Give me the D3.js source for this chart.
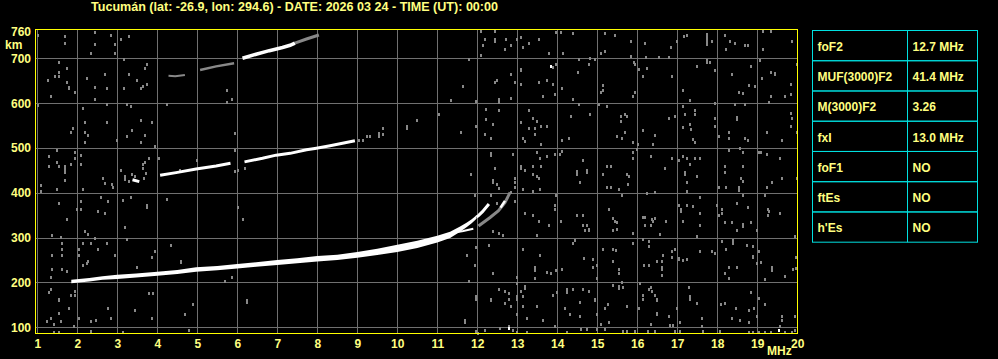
<!DOCTYPE html>
<html>
<head>
<meta charset="utf-8">
<script src="https://cdn.jsdelivr.net/npm/d3@7"></script>
<style>
  body { margin: 0; background: #000; }
  svg { display: block; }
  text { font-family: "Liberation Sans", Arial, sans-serif; font-weight: bold; font-size: 12px; }
</style>
</head>
<body>
<svg id="chart"></svg>
<script>
// ionogram - Tucuman, 2026 03 24 00:00 UT
var width = 998
var height = 359

var titleText = 'Tucumán (lat: -26.9, lon: 294.6) - DATE: 2026 03 24 - TIME (UT): 00:00'

var freqTicks = [1, 2, 3, 4, 5, 6, 7, 8, 9, 10, 11, 12, 13, 14, 15, 16, 17, 18, 19, 20]
var heightTicks = [100, 200, 300, 400, 500, 600, 700]
var heightLabels = [100, 200, 300, 400, 500, 600, 700, 760]

var paramNames = ['foF2', 'MUF(3000)F2', 'M(3000)F2', 'fxI', 'foF1', 'ftEs', "h'Es"]
var paramValues = ['12.7 MHz', '41.4 MHz', '3.26', '13.0 MHz', 'NO', 'NO', 'NO']

// F2 ordinary trace: frequency (MHz), upper and lower edge of the echo (km)
var f2Freq = [1.85, 2.3, 2.63, 3.0, 3.47, 4.0, 4.5, 4.97, 5.5, 6.0, 6.47, 7.0, 7.5, 8.0, 8.5, 9.0, 9.5, 10.0, 10.5, 11.0, 11.32, 11.57, 11.73, 11.86, 11.98]
var f2Top = [206, 210, 214, 217, 220, 224, 228, 234, 237, 241, 245, 250, 254, 259, 262, 268, 275, 284, 293, 304, 313, 325, 333, 341, 350]
var f2Bottom = [198, 202, 206, 208, 211, 215, 219, 224, 227, 231, 235, 239, 243, 247, 250, 255, 261, 268, 277, 289, 299, 313, 323, 332, 342]

// cusp near foF2 (white parts)
var cuspFreq = [11.98, 12.03, 12.13, 12.29]
var cuspHeight = [346, 349, 358, 375]
var cusp2Freq = [12.58, 12.69]
var cusp2Height = [367, 382]
var lowBranchFreq = [11.33, 11.65, 11.9]
var lowBranchHeight = [310, 315, 320]

// extraordinary trace (grey)
var xFreq = [12.03, 12.32, 12.53, 12.69, 12.82]
var xHeight = [326, 345, 360, 378, 401]

// second hop (null = gap)
var hop2Freq = [3.38, 3.55, null, 4.07, 4.47, 4.97, 5.47, 5.83, null, 6.18, 6.63, 6.97, 7.32, 7.73, 7.94, 8.32, 8.94]
var hop2Height = [429, 425, null, 439, 445, 453, 460, 466, null, 469, 477, 484, 488, 496, 499, 505, 516]

// third hop: white part and grey parts
var hop3Freq = [6.13, 6.47, 6.8, 7.13, 7.32, 7.44]
var hop3Height = [700, 709, 717, 724, 729, 734]
var hop3TailFreq = [7.44, 7.73, 8.04]
var hop3TailHeight = [734, 743, 752]
var hop3LowFreq = [5.07, 5.47, 5.92]
var hop3LowHeight = [674, 682, 689]
var hop3DotFreq = [4.28, 4.45, 4.69]
var hop3DotHeight = [661, 660, 663]

// scattered noise pixels [MHz, km]
var noiseDots = [
  [1.70,749],[1.70,734],[2.45,759],[2.45,732],[2.34,711],[2.84,752],[2.94,732],[2.94,711],[3.09,744],[3.28,749],[1.02,752],
  [1.53,692],[1.74,678],[1.53,670],[1.45,661],[1.55,661],[1.26,652],[1.74,648],[1.78,637],[1.78,633],[1.95,625],[1.34,616],
  [2.23,655],[2.45,637],[2.73,633],[2.70,665],[2.45,610],[3.16,698],[3.30,665],[3.49,652],[3.74,688],[3.68,679],[3.74,643],
  [3.65,639],[3.59,634],[3.16,634],[5.73,630],[5.88,610],[5.73,603],[1.02,595],
  [2.13,589],[2.73,597],[3.23,597],[3.34,593],[3.59,563],[3.88,558],[2.19,558],[2.73,558],[1.88,544],[1.84,536],[2.20,536],
  [2.28,530],[3.38,540],[3.24,527],[3.69,530],[2.98,518],[3.59,514],[3.94,504],[4.23,597],[5.95,533],[2.20,514],
  [1.49,496],[1.95,491],[1.29,482],[1.95,478],[2.09,484],[1.49,469],[1.84,464],[1.69,459],[1.69,454],[1.53,459],[1.29,460],
  [1.69,447],[1.69,428],[2.09,464],[1.09,417],[1.09,403],[1.49,408],[2.63,433],[2.69,421],[2.88,419],[2.90,414],[3.08,451],
  [3.18,438],[3.18,430],[3.28,427],[3.38,443],[3.44,438],[3.63,464],[3.69,468],[3.63,456],[3.72,445],[3.66,434],[3.80,478],
  [4.03,478],[4.57,451],[4.99,474],[5.95,496],[5.95,449],[6.03,451],[6.19,456],[2.13,408],
  [1.53,378],[1.74,341],[2.09,381],[1.98,364],[2.09,364],[2.53,359],[2.69,355],[2.59,390],[2.78,381],[3.13,384],[3.34,390],
  [3.74,372],[3.74,368],[4.23,386],[3.19,323],[2.20,314],[2.26,308],[2.45,300],[1.59,302],[1.38,306],[6.03,368],[6.13,341],
  [1.63,289],[1.63,274],[1.38,261],[1.63,261],[1.38,231],[1.63,231],[1.74,225],[2.03,274],[2.03,261],[2.13,289],[2.34,289],
  [2.53,274],[2.73,289],[2.13,239],[2.23,243],[2.28,248],[2.95,262],[3.23,297],[3.88,256],[3.94,271],[4.34,283],[4.59,248],
  [4.59,245],[3.49,234],[5.88,212],[5.70,203],[1.34,212],
  [1.34,185],[1.30,178],[1.53,163],[1.53,160],[1.83,172],[1.94,181],[1.94,172],[1.78,144],[1.53,132],[1.33,120],[1.24,114],
  [1.43,108],[1.58,115],[2.03,121],[2.34,115],[2.47,117],[2.84,121],[2.78,143],[3.43,139],[3.80,176],[3.90,176],[3.88,121],
  [4.69,129],[4.90,152],[6.24,161],[6.24,157],[1.91,103],[1.43,90],[1.53,90],[2.34,92],[3.13,90],[4.78,94],
  [12.08,761],[12.44,761],[12.19,744],[12.44,744],[12.44,739],[12.13,729],[12.73,743],[12.83,729],[12.98,743],[13.09,747],
  [13.29,734],[13.15,726],[13.54,743],[12.69,720],[12.08,707],[11.79,698],[12.83,665],[13.09,677],[13.09,673],[12.44,648],
  [12.50,652],[12.94,648],[13.09,643],[13.54,648],[11.63,639],[11.34,607],[11.98,605],[12.54,609],[12.54,603],[12.83,611],
  [13.63,616],[12.23,587],[12.23,564],[12.54,585],[13.29,585],[11.04,576],[10.48,563],[10.23,548],[10.23,545],[9.65,545],
  [9.63,532],[9.54,533],[9.54,527],[9.32,527],[9.23,526],[9.13,518],[9.04,518],[11.59,536],[11.98,549],[12.38,554],
  [13.09,558],[13.29,545],[13.44,545],[13.59,549],[13.44,532],[13.38,566],[13.50,560],[12.19,532],[12.34,523],[13.15,523],
  [13.19,516],[13.59,509],[12.34,488],[12.34,484],[12.88,487],[13.48,491],[13.58,478],[13.09,460],[13.09,456],[13.19,451],
  [13.38,460],[13.38,441],[13.50,438],[13.54,433],[13.59,460],[12.44,456],[11.84,442],[12.38,429],[12.38,424],[12.48,419],
  [12.54,410],[12.94,433],[12.94,423],[12.94,414],[13.13,408],[13.38,404],[13.58,408],[11.94,396],[12.34,396],[12.83,401],
  [12.94,381],[12.48,378],[13.19,355],[13.38,350],[13.54,337],[13.48,306],[12.38,314],[12.54,310],[12.63,306],[12.29,284],
  [13.13,274],[13.58,261],[11.73,261],[11.94,239],[12.38,221],[11.79,204],[11.98,279],[13.44,234],[13.44,228],[13.44,210],
  [12.98,212],[12.98,198],[13.19,192],[13.19,188],[13.09,181],[13.13,169],[13.13,148],[12.54,186],[12.69,181],[12.79,176],
  [12.79,163],[12.69,154],[12.83,148],[13.48,148],[12.34,164],[12.34,160],[11.98,170],[11.98,163],[12.98,170],[12.98,163],
  [13.23,121],[13.63,117],[11.69,117],[11.69,112],[12.98,129],[12.58,99],[12.79,103],[12.88,94],[12.98,90],[13.23,90],
  [11.98,92],[12.02,88],[12.19,94],
  [13.98,758],[14.09,759],[13.79,711],[14.15,711],[14.38,756],[15.19,756],[15.44,752],[15.84,738],[16.19,734],[15.84,706],
  [16.53,703],[16.79,703],[16.84,725],[16.98,738],[17.18,749],[17.25,752],[17.73,754],[17.73,748],[17.73,743],[17.73,737],
  [17.73,732],[17.88,738],[18.19,752],[18.32,738],[18.44,734],[18.69,729],[18.76,729],[18.23,720],[19.15,761],[19.34,761],
  [19.15,720],[19.88,738],[15.08,711],[15.18,716],[14.83,701],[14.94,698],[16.22,703],
  [13.90,680],[13.98,688],[13.73,652],[13.90,642],[13.94,620],[14.13,633],[14.38,610],[14.53,670],[14.54,698],[14.79,688],
  [15.13,640],[15.13,630],[15.09,624],[15.93,691],[15.94,688],[16.03,677],[15.94,625],[15.90,616],[16.13,661],[16.23,679],
  [16.88,661],[17.13,630],[17.33,607],[17.49,683],[17.73,697],[17.73,691],[17.83,692],[17.94,674],[17.94,601],[18.38,665],
  [18.54,624],[18.63,622],[18.79,640],[18.84,683],[18.94,639],[19.13,656],[19.08,697],[19.34,670],[19.44,668],[19.44,665],
  [19.34,616],[19.29,603],[19.69,616],[19.84,642],[19.84,621],[19.98,687],
  [13.73,549],[14.13,518],[14.28,523],[14.34,572],[14.54,597],[14.83,576],[15.04,597],[15.23,593],[15.59,572],[15.68,575],
  [15.73,572],[15.59,560],[15.68,536],[15.48,527],[15.61,523],[15.88,514],[16.01,508],[16.13,540],[16.44,529],[16.40,508],
  [16.79,567],[16.93,572],[17.13,594],[17.13,546],[17.33,554],[17.34,542],[17.44,584],[17.44,576],[17.19,576],[17.38,520],
  [17.44,514],[17.94,567],[17.94,549],[18.03,527],[18.29,535],[18.29,523],[18.48,570],[18.48,564],[18.44,598],[18.69,597],
  [18.69,523],[18.76,518],[19.23,536],[19.63,518],[19.84,579],[19.84,549],[19.86,567],[19.98,536],
  [13.73,482],[13.93,486],[14.07,487],[14.13,494],[14.63,474],[14.50,449],[14.50,441],[14.73,451],[14.73,447],[14.58,423],
  [15.23,460],[15.34,460],[15.13,442],[15.73,442],[15.79,438],[15.78,419],[15.23,414],[15.34,414],[15.53,408],[15.88,478],
  [15.90,491],[15.98,497],[16.34,482],[16.68,456],[16.88,478],[17.04,474],[17.13,482],[17.23,478],[17.33,465],[17.44,478],
  [17.58,478],[17.19,447],[17.19,442],[17.48,438],[17.23,423],[17.23,404],[18.03,414],[18.23,414],[18.19,460],[18.19,447],
  [18.29,496],[18.57,500],[18.65,491],[18.59,432],[18.63,427],[18.65,460],[18.54,412],[18.54,407],[19.05,491],[19.09,491],
  [19.23,487],[19.58,478],[19.63,433],[19.38,423],[19.98,433],[19.23,414],
  [13.98,395],[13.93,372],[13.94,364],[14.08,337],[13.79,329],[14.48,350],[14.63,350],[14.63,329],[14.73,329],[14.69,316],
  [14.78,316],[14.78,320],[15.29,364],[15.40,343],[15.44,338],[15.48,334],[15.40,316],[15.48,319],[15.63,395],[15.88,310],
  [16.13,347],[16.19,347],[16.19,329],[16.36,341],[16.40,337],[16.44,344],[16.34,329],[16.73,337],[16.57,309],[16.44,401],
  [16.23,399],[17.03,372],[17.09,364],[17.09,359],[17.23,372],[17.13,337],[17.40,371],[17.58,390],[17.58,355],[17.58,329],
  [17.48,303],[18.03,350],[18.11,355],[18.13,364],[18.00,372],[18.19,334],[18.38,334],[18.48,377],[18.48,316],[18.65,331],
  [18.65,326],[18.63,396],[18.76,368],[18.84,334],[19.26,364],[19.29,359],[19.26,350],[19.58,356],[19.19,395],[18.98,316],
  [19.94,303],
  [14.38,289],[14.44,294],[14.68,255],[14.88,252],[14.98,239],[14.88,234],[13.73,224],[13.84,221],[13.98,228],[14.13,230],
  [14.98,210],[15.15,274],[15.40,274],[15.46,273],[15.39,248],[15.54,230],[15.54,221],[15.63,201],[15.90,289],[16.13,297],
  [16.29,292],[16.29,282],[16.18,239],[16.30,239],[16.50,248],[16.63,248],[16.65,261],[16.63,234],[16.63,230],[16.61,216],
  [16.86,270],[16.93,274],[16.88,256],[17.03,255],[17.03,252],[17.13,249],[17.23,252],[17.58,270],[17.88,270],[17.94,265],
  [18.13,292],[18.23,274],[18.40,295],[18.40,289],[18.30,234],[18.19,221],[18.48,234],[18.30,210],[18.73,283],[18.88,282],
  [18.90,259],[18.90,256],[19.03,270],[18.98,243],[19.09,245],[19.38,234],[19.38,228],[19.18,207],[19.90,230],[19.96,233],
  [19.96,256],[19.69,215],
  [13.88,173],[14.00,178],[14.25,185],[14.25,178],[14.38,185],[14.63,185],[14.78,181],[14.19,143],[14.32,130],[14.57,157],
  [14.57,126],[14.94,164],[14.94,161],[14.98,129],[15.19,143],[15.26,151],[15.29,111],[15.09,108],[15.40,195],[15.53,192],
  [15.53,188],[15.65,191],[15.73,148],[16.08,198],[16.13,173],[16.13,163],[16.03,143],[16.29,185],[16.34,191],[16.38,181],
  [16.44,173],[16.48,164],[16.48,161],[16.48,133],[16.48,129],[16.34,107],[16.79,126],[16.82,106],[16.90,105],[16.98,143],
  [17.07,112],[17.29,191],[17.33,170],[17.33,164],[17.48,155],[17.61,121],[17.63,103],[18.09,151],[18.19,155],[18.36,121],
  [18.47,142],[18.57,117],[18.79,111],[18.84,178],[18.78,139],[18.93,143],[19.03,166],[19.18,151],[18.98,126],[19.63,126],
  [19.63,117],[19.94,126],[19.57,103],
  [13.94,102],[14.23,90],[14.59,97],[14.73,97],[14.98,97],[15.18,96],[15.65,92],[15.73,92],[15.94,92],[16.26,92],[16.44,92],
  [16.93,92],[17.07,92],[17.65,92],[18.07,92],[18.80,90],[18.90,90],[19.03,90],[19.19,90],[19.34,90],[19.69,90],[19.86,90],
  [19.94,94]
]
var whiteDots = [[13.84,683],[12.79,99],[19.53,94]]

// scales: frequency axis 1..20 MHz, virtual height axis in km
var xScale = d3.scaleLinear()
              .domain([1, 20])
              .range([37.3, 797.3])

var yScale = d3.scaleLinear()
              .domain([100, 700])
              .range([327.3, 58.3])

var plotLeft = 36, plotRight = 798, plotTop = 29, plotBottom = 333

var svg = d3.select('#chart')
            .attr('width', width)
            .attr('height', height)
            .style('background', '#000')

svg.append('text')
    .text(titleText)
    .attr('x', 91)
    .attr('y', 11)
    .attr('textLength', 407)
    .attr('lengthAdjust', 'spacingAndGlyphs')
    .attr('fill', '#ffff80')

var plot = svg.append('g')

// grid
plot.selectAll('.vgrid')
  .data(freqTicks)
  .enter()
  .append('line')
    .attr('x1', d => Math.round(xScale(d)) + 0.5)
    .attr('x2', d => Math.round(xScale(d)) + 0.5)
    .attr('y1', plotTop)
    .attr('y2', plotBottom)
    .attr('stroke', '#707070')
    .attr('shape-rendering', 'crispEdges')

plot.selectAll('.hgrid')
  .data(heightTicks)
  .enter()
  .append('line')
    .attr('x1', plotLeft)
    .attr('x2', plotRight)
    .attr('y1', d => Math.round(yScale(d)) + 0.5)
    .attr('y2', d => Math.round(yScale(d)) + 0.5)
    .attr('stroke', '#707070')
    .attr('shape-rendering', 'crispEdges')

// noise
plot.selectAll('.noise')
  .data(noiseDots)
  .enter()
  .append('rect')
    .attr('x', d => Math.round(xScale(d[0])) - 1)
    .attr('y', d => Math.round(yScale(d[1])) - 1)
    .attr('width', 2)
    .attr('height', 3)
    .attr('fill', '#888')
    .attr('shape-rendering', 'crispEdges')

plot.selectAll('.whiteDot')
  .data(whiteDots)
  .enter()
  .append('rect')
    .attr('x', d => Math.round(xScale(d[0])) - 1)
    .attr('y', d => Math.round(yScale(d[1])) - 1)
    .attr('width', 2)
    .attr('height', 3)
    .attr('fill', '#fff')

// traces
var line = d3.line()
             .defined(d => d[0] != null)
             .x(d => xScale(d[0]))
             .y(d => yScale(d[1]))

function trace(freqs, heights, color, w) {
  plot.append('path')
    .datum(freqs.map((f, i) => [f, heights[i]]))
    .attr('d', line)
    .attr('fill', 'none')
    .attr('stroke', color)
    .attr('stroke-width', w)
}

trace(hop3LowFreq, hop3LowHeight, '#888', 2.5)
trace(hop3DotFreq, hop3DotHeight, '#888', 2)
trace(hop3TailFreq, hop3TailHeight, '#888', 3)
trace(hop3Freq, hop3Height, '#fff', 3.5)
trace(hop2Freq, hop2Height, '#fff', 3)
trace(xFreq, xHeight, '#888', 3)

var f2Area = d3.area()
               .x(d => xScale(d.f))
               .y0(d => yScale(d.lo))
               .y1(d => yScale(d.hi))

plot.append('path')
  .datum(f2Freq.map((f, i) => ({f: f, hi: f2Top[i], lo: f2Bottom[i]})))
  .attr('d', f2Area)
  .attr('fill', '#fff')

trace(cuspFreq, cuspHeight, '#fff', 3)
trace(cusp2Freq, cusp2Height, '#fff', 2.5)
trace(lowBranchFreq, lowBranchHeight, '#fff', 2)

// frame
svg.append('rect')
    .attr('x', plotLeft - 0.5)
    .attr('y', plotTop + 0.5)
    .attr('width', plotRight - plotLeft)
    .attr('height', plotBottom - plotTop)
    .attr('fill', 'none')
    .attr('stroke', '#ffff00')
    .attr('shape-rendering', 'crispEdges')

// axis labels
svg.selectAll('.ylab')
  .data(heightLabels)
  .enter()
  .append('text')
    .text(d => d)
    .attr('x', 31)
    .attr('y', d => yScale(d) + 4.5)
    .attr('text-anchor', 'end')
    .attr('fill', '#ffff80')

svg.append('text')
    .text('km')
    .attr('x', 5)
    .attr('y', 48.5)
    .attr('fill', '#ffff80')

svg.selectAll('.xlab')
  .data(freqTicks)
  .enter()
  .append('text')
    .text(d => d)
    .attr('x', d => xScale(d) + 0.5)
    .attr('y', 348)
    .attr('text-anchor', 'middle')
    .attr('fill', '#ffff80')

svg.append('text')
    .text('MHz')
    .attr('x', 767)
    .attr('y', 355)
    .attr('fill', '#ffff80')

// parameter table
var rowH = 30.24
var tableX = 812.5, tableY = 30.5, col2 = 907.5, tableW = 165

var rows = svg.selectAll('.row')
              .data(paramNames)
              .enter()
              .append('g')
                .attr('transform', (d, i) => 'translate(0,' + (tableY + i * rowH) + ')')

rows.append('rect')
    .attr('x', tableX)
    .attr('y', 0)
    .attr('width', tableW)
    .attr('height', rowH)
    .attr('fill', 'none')
    .attr('stroke', '#00e0e0')

rows.append('text')
    .text(d => d)
    .attr('x', 817.5)
    .attr('y', 20.5)
    .attr('fill', '#ffff80')

rows.append('text')
    .text((d, i) => paramValues[i])
    .attr('x', 912.5)
    .attr('y', 20.5)
    .attr('fill', '#ffff80')

svg.append('line')
    .attr('x1', col2)
    .attr('x2', col2)
    .attr('y1', tableY)
    .attr('y2', tableY + rowH * paramNames.length)
    .attr('stroke', '#00e0e0')
</script>
</body>
</html>
